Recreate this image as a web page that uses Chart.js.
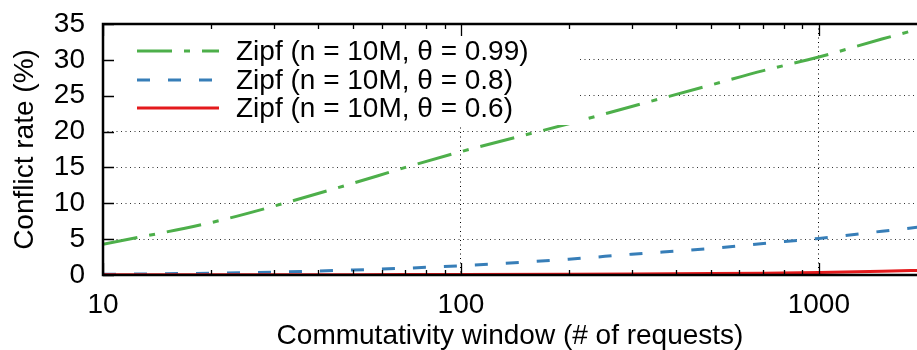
<!DOCTYPE html>
<html>
<head>
<meta charset="utf-8">
<script src="https://cdn.jsdelivr.net/npm/chart.js@4.4.1/dist/chart.umd.min.js"></script>
<style>
  html, body { margin: 0; padding: 0; background: #fff; }
  #wrap { width: 917px; height: 350px; }
</style>
</head>
<body>
<div id="wrap"><canvas id="conflicts" width="917" height="350"></canvas></div>
<script>
  'use strict';

  // commutativity window sizes (# of requests) and conflict rates (%)
  const windowSizes = [10, 20, 30, 50, 70, 100, 200, 300, 500, 700, 1000, 1500, 2000];
  const zipf099 = [4.3, 7.3, 9.6, 12.8, 15.0, 17.2, 21.1, 23.5, 26.5, 28.5, 30.4, 32.9, 34.6];
  const zipf08 = [0.1, 0.25, 0.4, 0.7, 0.95, 1.3, 2.2, 2.9, 3.7, 4.4, 5.1, 6.1, 6.8];
  const zipf06 = [0.02, 0.03, 0.04, 0.05, 0.06, 0.07, 0.1, 0.13, 0.2, 0.26, 0.35, 0.52, 0.68];

  const xMajor = [10, 100, 1000];
  const yTicks = [0, 5, 10, 15, 20, 25, 30, 35];
  const legendLabels = [
    'Zipf (n = 10M, \u03b8 = 0.99)',
    'Zipf (n = 10M, \u03b8 = 0.8)',
    'Zipf (n = 10M, \u03b8 = 0.6)'
  ];

  const FONT = '"Liberation Sans", Arial, Helvetica, sans-serif';
  const GREEN = '#4daf4a';
  const BLUE = '#377eb8';
  const RED = '#e41a1c';

  function points(ys) {
    return windowSizes.map((x, i) => ({ x: x, y: ys[i] }));
  }

  const series = [
    { label: legendLabels[0], data: zipf099, color: GREEN, dash: [35, 12, 6, 12] },
    { label: legendLabels[1], data: zipf08, color: BLUE, dash: [13, 18] },
    { label: legendLabels[2], data: zipf06, color: RED, dash: [] }
  ];

  // gnuplot-like frame: inward ticks, opaque key box in the top-left corner
  const framePlugin = {
    id: 'frame',
    afterDraw(chart) {
      const ctx = chart.ctx;
      const area = chart.chartArea;
      const xs = chart.scales.x;
      const ys = chart.scales.y;

      ctx.save();

      // key
      ctx.fillStyle = '#fff';
      ctx.fillRect(area.left + 1, area.top + 1, 474, 100);
      const rows = [area.top + 27, area.top + 56, area.top + 84];
      series.forEach((s, i) => {
        ctx.beginPath();
        ctx.strokeStyle = s.color;
        ctx.lineWidth = 3;
        ctx.setLineDash(s.dash);
        ctx.moveTo(137, rows[i]);
        ctx.lineTo(219, rows[i]);
        ctx.stroke();
        ctx.setLineDash([]);
        ctx.fillStyle = '#000';
        ctx.font = '28px ' + FONT;
        ctx.textAlign = 'left';
        ctx.textBaseline = 'middle';
        ctx.fillText(s.label, 236, rows[i] + 1);
      });

      // tick marks
      ctx.strokeStyle = '#000';
      ctx.lineWidth = 1.3;
      ctx.beginPath();
      yTicks.forEach(v => {
        const py = Math.round(ys.getPixelForValue(v)) + 0.5;
        ctx.moveTo(area.left, py);
        ctx.lineTo(area.left + 11, py);
      });
      xs.ticks.forEach(t => {
        const px = Math.round(xs.getPixelForValue(t.value)) + 0.5;
        const len = xMajor.includes(t.value) ? 12 : 5;
        ctx.moveTo(px, area.bottom);
        ctx.lineTo(px, area.bottom - len);
        ctx.moveTo(px, area.top);
        ctx.lineTo(px, area.top + len);
      });
      ctx.stroke();

      // border
      ctx.lineWidth = 2.5;
      ctx.beginPath();
      ctx.moveTo(chart.width + 2, area.top);
      ctx.lineTo(area.left, area.top);
      ctx.lineTo(area.left, area.bottom);
      ctx.lineTo(chart.width + 2, area.bottom);
      ctx.stroke();
      ctx.restore();
    }
  };

  new Chart(document.getElementById('conflicts'), {
    type: 'line',
    data: {
      datasets: series.slice().reverse().map(s => ({
        label: s.label,
        data: points(s.data),
        borderColor: s.color,
        borderWidth: 3,
        borderDash: s.dash,
        borderCapStyle: 'butt',
        pointRadius: 0,
        fill: false,
        cubicInterpolationMode: 'monotone'
      }))
    },
    options: {
      responsive: false,
      animation: false,
      layout: { padding: { top: 24, left: 0, right: 0, bottom: 0 } },
      plugins: {
        legend: { display: false },
        tooltip: { enabled: false }
      },
      scales: {
        x: {
          type: 'logarithmic',
          min: 10,
          max: 1880,
          afterBuildTicks(scale) {
            const ticks = [];
            xMajor.forEach(base => {
              for (let m = 1; m <= 9; m++) {
                if (base * m <= scale.max) ticks.push({ value: base * m });
              }
            });
            scale.ticks = ticks;
          },
          afterFit(scale) {
            scale.height = 75;
            scale.paddingLeft = 0;
            scale.paddingRight = 0;
          },
          border: { display: false, dash: [1, 3.5] },
          grid: {
            drawTicks: false,
            lineWidth: 1,
            color: c => (c.tick && c.tick.value !== 10 && xMajor.includes(c.tick.value)) ? '#000' : 'rgba(0,0,0,0)'
          },
          ticks: {
            autoSkip: false,
            maxRotation: 0,
            padding: 13,
            color: '#000',
            font: { family: FONT, size: 28 },
            callback: v => xMajor.includes(v) ? String(v) : ''
          },
          title: {
            display: true,
            text: 'Commutativity window (# of requests)',
            color: '#000',
            font: { family: FONT, size: 28, lineHeight: 1 },
            padding: { top: 0, bottom: 0 }
          }
        },
        y: {
          min: 0,
          max: 35,
          afterBuildTicks(scale) {
            scale.ticks = yTicks.map(v => ({ value: v }));
          },
          afterFit(scale) {
            scale.width = 103;
            scale.paddingTop = 0;
            scale.paddingBottom = 0;
          },
          border: { display: false, dash: [1, 3.5] },
          grid: {
            drawTicks: false,
            lineWidth: 1,
            color: c => (c.tick && c.tick.value > 0 && c.tick.value < 35) ? '#333' : 'rgba(0,0,0,0)'
          },
          ticks: {
            autoSkip: false,
            padding: 18,
            color: '#000',
            font: { family: FONT, size: 28 }
          },
          title: {
            display: true,
            text: 'Conflict rate (%)',
            color: '#000',
            font: { family: FONT, size: 28 },
            padding: { top: 8, bottom: 0 }
          }
        }
      }
    },
    plugins: [framePlugin]
  });
</script>
</body>
</html>
